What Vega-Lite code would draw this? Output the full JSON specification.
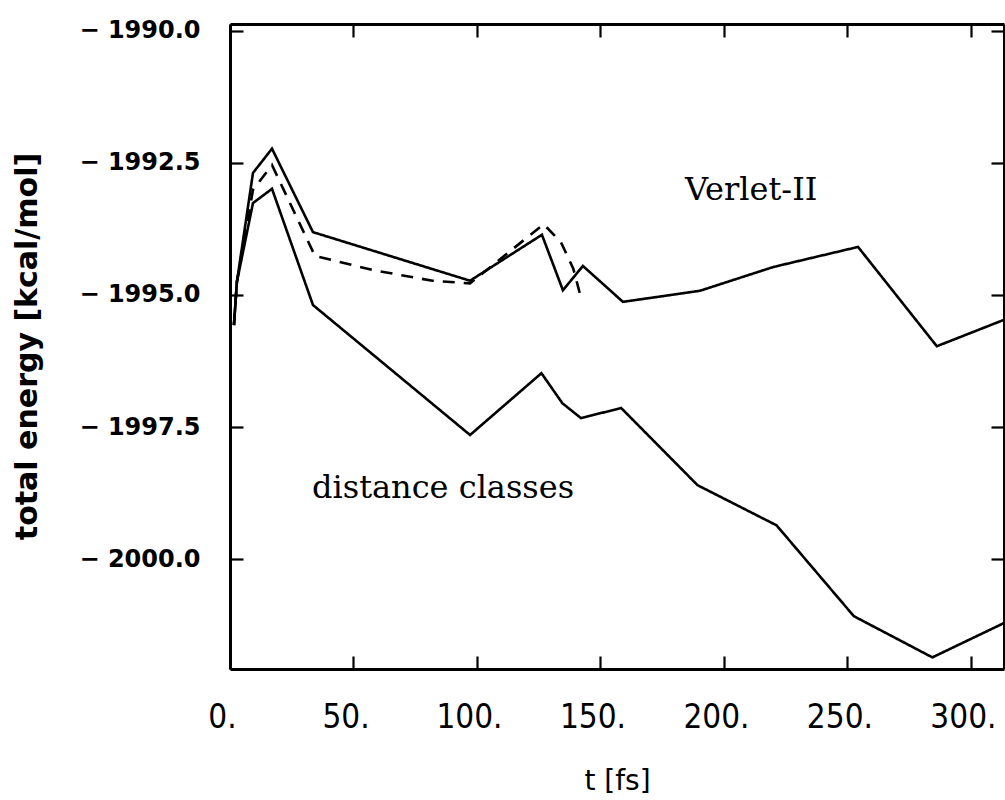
{
  "$schema": "https://vega.github.io/schema/vega-lite/v6.json",
  "width": 774,
  "height": 645,
  "autosize": {"type": "none"},
  "padding": {"left": 230, "top": 24, "right": 1, "bottom": 131},
  "background": "white",
  "config": {"view": {"stroke": null}},
  "datasets": {
    "lines": [
      {"series": "verlet", "t": 1.6, "E": -1995.57},
      {"series": "verlet", "t": 2.8, "E": -1994.75},
      {"series": "verlet", "t": 9.3, "E": -1992.69},
      {"series": "verlet", "t": 17.0, "E": -1992.23},
      {"series": "verlet", "t": 33.6, "E": -1993.81},
      {"series": "verlet", "t": 97.2, "E": -1994.73},
      {"series": "verlet", "t": 126.3, "E": -1993.86},
      {"series": "verlet", "t": 134.8, "E": -1994.91},
      {"series": "verlet", "t": 142.9, "E": -1994.45},
      {"series": "verlet", "t": 159.1, "E": -1995.13},
      {"series": "verlet", "t": 190.3, "E": -1994.92},
      {"series": "verlet", "t": 220.0, "E": -1994.47},
      {"series": "verlet", "t": 254.3, "E": -1994.09},
      {"series": "verlet", "t": 286.2, "E": -1995.97},
      {"series": "verlet", "t": 313.4, "E": -1995.47},
      {"series": "dashed", "t": 1.6, "E": -1995.57},
      {"series": "dashed", "t": 2.8, "E": -1994.75},
      {"series": "dashed", "t": 9.3, "E": -1993.01},
      {"series": "dashed", "t": 17.0, "E": -1992.54},
      {"series": "dashed", "t": 34.4, "E": -1994.26},
      {"series": "dashed", "t": 58.0, "E": -1994.53},
      {"series": "dashed", "t": 82.0, "E": -1994.73},
      {"series": "dashed", "t": 97.2, "E": -1994.78},
      {"series": "dashed", "t": 127.0, "E": -1993.66},
      {"series": "dashed", "t": 134.0, "E": -1994.0},
      {"series": "dashed", "t": 139.0, "E": -1994.5},
      {"series": "dashed", "t": 142.5, "E": -1995.12},
      {"series": "distance", "t": 1.6, "E": -1995.57},
      {"series": "distance", "t": 2.8, "E": -1994.75},
      {"series": "distance", "t": 9.3, "E": -1993.26},
      {"series": "distance", "t": 17.0, "E": -1992.99},
      {"series": "distance", "t": 33.6, "E": -1995.19},
      {"series": "distance", "t": 97.2, "E": -1997.65},
      {"series": "distance", "t": 126.1, "E": -1996.48},
      {"series": "distance", "t": 134.6, "E": -1997.05},
      {"series": "distance", "t": 142.1, "E": -1997.33},
      {"series": "distance", "t": 158.4, "E": -1997.14},
      {"series": "distance", "t": 189.3, "E": -1998.6},
      {"series": "distance", "t": 221.3, "E": -1999.36},
      {"series": "distance", "t": 252.6, "E": -2001.08},
      {"series": "distance", "t": 284.4, "E": -2001.86},
      {"series": "distance", "t": 313.4, "E": -2001.21}
    ],
    "labels": [
      {"label": "distance classes", "t": 33.2, "E": -1998.84},
      {"label": "Verlet-II", "t": 184.2, "E": -1993.2}
    ]
  },
  "layer": [
    {
      "data": {"name": "lines"},
      "mark": {"type": "line", "color": "black", "strokeWidth": 2.6, "clip": true},
      "encoding": {
        "x": {
          "field": "t", "type": "quantitative",
          "scale": {"domain": [0, 313.4], "nice": false, "zero": false},
          "axis": {
            "orient": "bottom", "values": [0, 50, 100, 150, 200, 250, 300],
            "labelExpr": "datum.value + '.'",
            "grid": false, "tickSize": -13, "tickWidth": 2.2, "tickColor": "black",
            "domainColor": "black", "domainWidth": 3,
            "labelFont": "Liberation Sans Narrow, DejaVu Sans Condensed, sans-serif",
            "labelFontSize": 33, "labelColor": "black", "labelBaseline": "middle",
            "labelPadding": 61, "labelOffset": -8, "labelFlush": false, "labelOverlap": false, "labelBound": false,
            "title": "t [fs]", "titleFont": "DejaVu Sans", "titleFontSize": 28, "titleFontWeight": "normal",
            "titleColor": "black", "titleY": 112, "titleBaseline": "middle"
          }
        },
        "y": {
          "field": "E", "type": "quantitative",
          "scale": {"domain": [-2002.08, -1989.87], "nice": false, "zero": false},
          "axis": {
            "orient": "left", "values": [-2000, -1997.5, -1995, -1992.5, -1990],
            "labelExpr": "'− ' + format(abs(datum.value), '.1f')",
            "grid": false, "tickSize": -13, "tickWidth": 2.2, "tickColor": "black",
            "domainColor": "black", "domainWidth": 3,
            "labelFont": "DejaVu Sans", "labelFontWeight": "bold", "labelFontSize": 24,
            "labelColor": "black", "labelPadding": 43, "labelFlush": false, "labelOverlap": false, "labelBound": false,
            "title": "total energy [kcal/mol]", "titleFont": "DejaVu Sans", "titleFontSize": 30,
            "titleFontWeight": "bold", "titleColor": "black",
            "titleX": -203, "titleY": 322, "titleBaseline": "middle", "titleAngle": -90
          }
        },
        "detail": {"field": "series", "type": "nominal"},
        "strokeDash": {
          "field": "series", "type": "nominal",
          "scale": {"domain": ["verlet", "dashed", "distance"], "range": [[1, 0], [12, 9], [1, 0]]},
          "legend": null
        }
      }
    },
    {
      "data": {"name": "labels"},
      "mark": {"type": "text", "font": "DejaVu Serif", "fontSize": 32, "color": "black", "align": "left", "baseline": "alphabetic"},
      "encoding": {
        "x": {
          "field": "t", "type": "quantitative",
          "axis": {
            "orient": "top", "values": [0, 50, 100, 150, 200, 250, 300], "labels": false,
            "grid": false, "tickSize": -13, "tickWidth": 2.2, "tickColor": "black",
            "domainColor": "black", "domainWidth": 3, "title": null
          }
        },
        "y": {
          "field": "E", "type": "quantitative",
          "axis": {
            "orient": "right", "values": [-2000, -1997.5, -1995, -1992.5, -1990], "labels": false,
            "grid": false, "tickSize": -13, "tickWidth": 2.2, "tickColor": "black",
            "domainColor": "black", "domainWidth": 3, "title": null
          }
        },
        "text": {"field": "label", "type": "nominal"}
      }
    }
  ],
  "resolve": {"axis": {"x": "independent", "y": "independent"}}
}
